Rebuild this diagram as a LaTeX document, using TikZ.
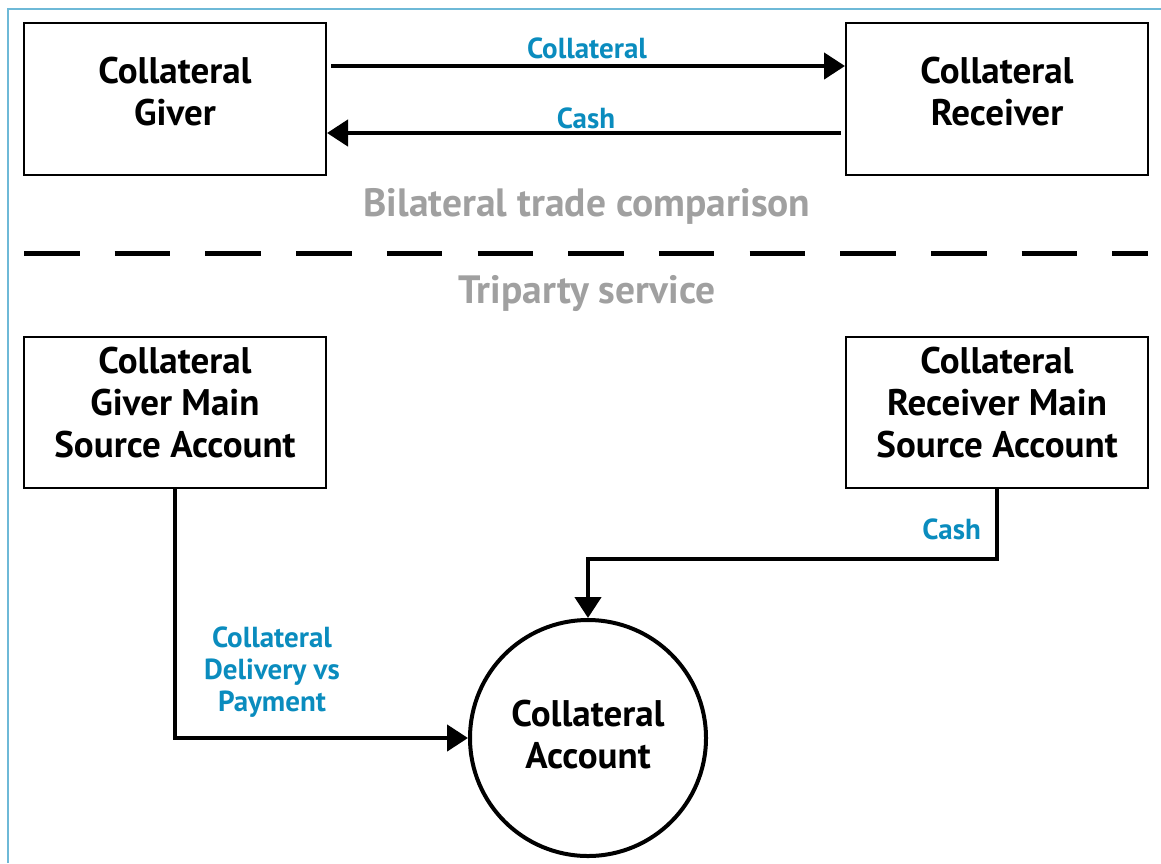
\documentclass[tikz,border=0pt]{standalone}
\usepackage{fontspec}
\setmainfont{PT Sans}
\usetikzlibrary{arrows.meta}
\definecolor{lblue}{RGB}{10,140,190}
\definecolor{tgray}{RGB}{160,160,160}
\definecolor{fblue}{RGB}{110,185,215}
\tikzset{
  boxnode/.style={draw=black, line width=2pt, minimum width=302pt, minimum height=152pt, inner sep=0pt},
  boxtext/.style={font=\bfseries\fontsize{37}{42}\selectfont, align=center, inner sep=0pt},
  flowlabel/.style={font=\bfseries\fontsize{29}{32}\selectfont, text=lblue, align=center, inner sep=0pt},
  titletext/.style={font=\bfseries\fontsize{39.5}{44}\selectfont, text=tgray, inner sep=0pt},
  flow/.style={line width=4.5pt, -{Triangle[length=21pt,width=26pt]}},
}
\begin{document}
\begin{tikzpicture}[x=1pt,y=-1pt]
\useasboundingbox (0,0) rectangle (1161,863);
% partial frame
\draw[fblue, line width=1.5pt] (8,863) -- (8,9) -- (1161,9);
% top boxes
\node[boxnode] (giver) at (175,99) {};
\node[boxtext] (giverT) at (175,92) {Collateral\\Giver};
\node[boxnode] (recv) at (997,99) {};
\node[boxtext] (recvT) at (997,92) {Collateral\\Receiver};
% bilateral arrows
\draw[flow, shorten <=4pt] ([yshift=33pt]giver.east) -- ([yshift=33pt]recv.west);
\draw[flow, shorten <=4pt] ([yshift=-34pt]recv.west) -- ([yshift=-34pt]giver.east);
\node[flowlabel, anchor=base] (l1) at (587,58) {Collateral};
\node[flowlabel, anchor=base] (l2) at (586,128) {Cash};
% titles and separator
\node[titletext, anchor=base] (bil) at (587,216) {Bilateral trade comparison};
\draw[line width=5pt, dash pattern=on 55.5pt off 35.2pt] (24,253) -- (1148,253);
\node[titletext, anchor=base] (tri) at (587,303) {Triparty service};
% lower boxes
\node[boxnode, minimum height=151pt] (gmain) at (175,412.5) {};
\node[boxtext] (gmainT) at (175,403) {Collateral\\Giver Main\\Source Account};
\node[boxnode, minimum height=151pt] (rmain) at (997,412.5) {};
\node[boxtext] (rmainT) at (997,403) {Collateral\\Receiver Main\\Source Account};
% circle
\node[draw=black, line width=4pt, circle, minimum size=236pt, inner sep=0pt] (acct) at (588,738) {};
\node[boxtext] (acctT) at (588,735) {Collateral\\Account};
% triparty flows
\draw[flow] (gmain.south) |- (acct.west);
\draw[flow] (rmain.south) -- ++(0,70) -| (acct.north);
\node[flowlabel] (dvp) at (272,672) {Collateral\\Delivery vs\\Payment};
\node[flowlabel, anchor=east] (cash2) at (981,529) {Cash};
\end{tikzpicture}
\end{document}
